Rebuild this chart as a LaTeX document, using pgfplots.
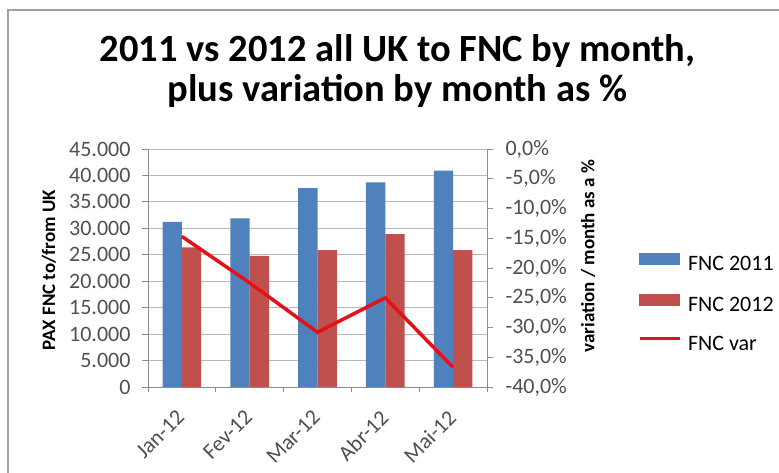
\documentclass[border=0pt]{standalone}
\usepackage{pgfplots}
\pgfplotsset{compat=1.18}
\usepackage{fontspec}
\setmainfont{Carlito}
\definecolor{cblue}{RGB}{79,129,189}
\definecolor{cred}{RGB}{192,80,77}
\definecolor{cline}{RGB}{228,18,24}
\definecolor{ctick}{RGB}{80,80,80}
\definecolor{caxis}{RGB}{140,140,140}
\definecolor{cgrid}{RGB}{185,185,185}
\newcommand{\tf}{\fontsize{22}{26}\selectfont}
\begin{document}
\begin{tikzpicture}[x=1pt,y=1pt]
\useasboundingbox (0,0) rectangle (779,473);
\fill[white] (0,0) rectangle (779,473);
\draw[gray!75, line width=1.6pt] (8,-20) -- (8,463) -- (800,463);
\node[font=\fontsize{38.5}{44}\selectfont\bfseries, anchor=base] at (397.5,411) {2011 vs 2012 all UK to FNC by month,};
\node[font=\fontsize{38.5}{44}\selectfont\bfseries, anchor=base] at (397.5,371) {plus variation by month as \%};

\begin{axis}[
  at={(148pt,86pt)}, anchor=south west, scale only axis,
  width=339pt, height=238pt,
  xmin=-0.5, xmax=4.5, ymin=0, ymax=45000,
  xtick={0,1,2,3,4},
  xticklabels={Jan-12,Fev-12,Mar-12,Abr-12,Mai-12},
  minor xtick={-0.5,0.5,1.5,2.5,3.5,4.5},
  ytick={0,5000,...,45000},
  ymajorgrids, grid style={cgrid, line width=0.8pt},
  axis x line*=bottom, axis y line*=left,
  axis line style={caxis, line width=0.9pt},
  tick align=outside, major tick length=6pt, minor tick length=5pt,
  tick style={caxis, line width=0.8pt},
  xtick style={draw=none},
  minor x tick style={draw=caxis},
  scaled y ticks=false,
  y tick label style={font=\tf, color=ctick, xshift=-8pt, /pgf/number format/.cd, 1000 sep={.}, assume math mode=true},
  x tick label style={font=\tf, color=ctick, rotate=45, anchor=north east, yshift=-3pt, xshift=-12pt},
  ylabel={PAX FNC to/from UK},
  every axis y label/.style={at={(axis description cs:-0.292,0.49)}, anchor=center, rotate=90, font=\fontsize{19}{22}\selectfont\bfseries},
]
\addplot[ybar, bar width=0.285, bar shift=-0.1425, fill=cblue, draw=none] coordinates {(0,31200) (1,31900) (2,37600) (3,38700) (4,40900)};
\addplot[ybar, bar width=0.285, bar shift=0.1425, fill=cred, draw=none] coordinates {(0,26400) (1,24800) (2,25900) (3,28900) (4,25900)};
\end{axis}

\begin{axis}[
  at={(148pt,86pt)}, anchor=south west, scale only axis,
  width=339pt, height=238pt,
  xmin=-0.5, xmax=4.5, ymin=-40, ymax=0,
  axis x line=none, axis y line*=right,
  ytick={-40,-35,...,0},
  axis line style={caxis, line width=0.9pt},
  tick align=outside, major tick length=6pt,
  tick style={caxis, line width=0.8pt},
  y tick label style={font=\tf, color=ctick, xshift=9pt},
  yticklabel={\pgfmathprintnumber[fixed,fixed zerofill,precision=1,use comma,assume math mode=true]{\tick}\%},
  ylabel={variation / month as a \%},
  every axis y label/.style={at={(axis description cs:1.298,0.55)}, anchor=center, rotate=90, font=\fontsize{19}{22}\selectfont\bfseries},
  legend style={draw=none, fill=none, at={(axis description cs:1.445,0.353)}, anchor=west, font=\tf, row sep=21pt, column sep=6pt, inner sep=0pt, nodes={inner sep=1pt}},
  legend cell align=left,
]
\addlegendimage{legend image code/.code={\fill[cblue] (0pt,0pt) rectangle (40pt,11pt);}}
\addlegendentry{FNC 2011}
\addlegendimage{legend image code/.code={\fill[cred] (0pt,0pt) rectangle (40pt,11pt);}}
\addlegendentry{FNC 2012}
\addlegendimage{legend image code/.code={\draw[cline, line width=3pt] (0pt,5.5pt) -- (40pt,5.5pt);}}
\addlegendentry{FNC var}
\addplot[cline, line width=3.5pt, mark=none] coordinates {(0,-14.7) (1,-22.5) (2,-30.8) (3,-25.0) (4,-36.7)};
\end{axis}
\end{tikzpicture}
\end{document}
